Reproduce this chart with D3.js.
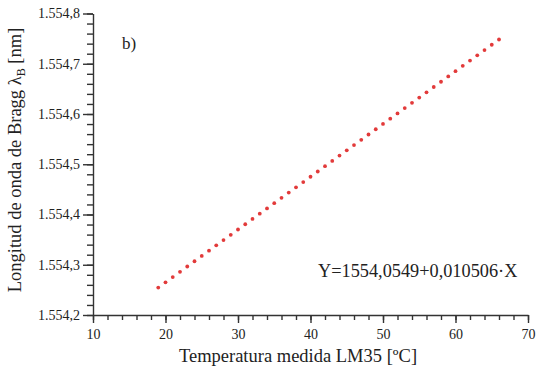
<!DOCTYPE html>
<html>
<head>
<meta charset="utf-8">
<script src="https://cdn.jsdelivr.net/npm/d3@7"></script>
<style>
  body { margin: 0; background: #fff; }
  text { font-family: "Liberation Serif", "Times New Roman", serif; fill: #222; }
</style>
</head>
<body>
<div id="chart"></div>
<script>
const width = 537
const height = 371
const margin = { top: 13.5, right: 9, bottom: 56, left: 93 }

// data
const temps = [19, 20, 21, 22, 23, 24, 25, 26, 27, 28, 29, 30, 31, 32, 33, 34, 35, 36, 37, 38, 39, 40,
  41, 42, 43, 44, 45, 46, 47, 48, 49, 50, 51, 52, 53, 54, 55, 56, 57, 58, 59, 60, 61, 62, 63, 64, 65, 66]
const lambdas = [1554.2545, 1554.265, 1554.2755, 1554.286, 1554.2965, 1554.307, 1554.3176, 1554.3281,
  1554.3386, 1554.3491, 1554.3596, 1554.3701, 1554.3806, 1554.3911, 1554.4016, 1554.4121, 1554.4226,
  1554.4331, 1554.4436, 1554.4541, 1554.4646, 1554.4751, 1554.4856, 1554.4961, 1554.5067, 1554.5172,
  1554.5277, 1554.5382, 1554.5487, 1554.5592, 1554.5697, 1554.5802, 1554.5907, 1554.6012, 1554.6117,
  1554.6222, 1554.6327, 1554.6432, 1554.6537, 1554.6642, 1554.6747, 1554.6852, 1554.6958, 1554.7063,
  1554.7168, 1554.7273, 1554.7378, 1554.7483]
const xTicks = [10, 20, 30, 40, 50, 60, 70]
const yTicks = [1554.2, 1554.3, 1554.4, 1554.5, 1554.6, 1554.7, 1554.8]
const yTickLabels = ["1.554,2", "1.554,3", "1.554,4", "1.554,5", "1.554,6", "1.554,7", "1.554,8"]

const data = temps.map((t, i) => ({ t: t, l: lambdas[i] }))

const svg = d3.select("div#chart").append("svg").attr("width", width).attr("height", height)
const innerW = width - margin.left - margin.right
const innerH = height - margin.top - margin.bottom

const x = d3.scaleLinear().domain([10, 70]).range([0, innerW])
const y = d3.scaleLinear().domain([1554.2, 1554.8]).range([innerH, 0])

const g = svg.append("g").attr("transform", `translate(${margin.left}, ${margin.top})`)

// minor ticks first
const xMinor = d3.range(10, 70.01, 2)
const yMinor = d3.range(0, 31).map(i => 1554.2 + i * 0.02)

g.append("g").attr("transform", `translate(0, ${innerH})`)
  .call(d3.axisBottom(x).tickValues(xMinor).tickSize(5).tickFormat(""))
  .call(a => a.select(".domain").remove())
g.append("g")
  .call(d3.axisLeft(y).tickValues(yMinor).tickSize(6).tickFormat(""))
  .call(a => a.select(".domain").remove())

const xAxis = g.append("g").attr("transform", `translate(0, ${innerH})`)
  .call(d3.axisBottom(x).tickValues(xTicks).tickSize(8).tickSizeOuter(0).tickPadding(6))
xAxis.selectAll("text").attr("font-size", 14).attr("font-family", "Liberation Serif").attr("fill", "#333")

const yAxis = g.append("g")
  .call(d3.axisLeft(y).tickValues(yTicks).tickSize(10).tickSizeOuter(0).tickPadding(3)
    .tickFormat((d, i) => yTickLabels[i]))
yAxis.selectAll("text").attr("font-size", 14).attr("font-family", "Liberation Serif").attr("fill", "#333")

g.selectAll(".domain, .tick line").attr("stroke", "#333").attr("stroke-width", 1.4)

// points
g.selectAll("circle.pt").data(data).enter()
  .append("circle")
  .attr("class", "pt")
  .attr("cx", d => x(d.t))
  .attr("cy", d => y(d.l))
  .attr("r", 1.9)
  .attr("fill", "#e23a3a")

// labels
svg.append("text")
  .attr("x", 298).attr("y", 362)
  .attr("text-anchor", "middle").attr("font-size", 18.5)
  .text("Temperatura medida LM35 [ºC]")

const yt = svg.append("text")
  .attr("transform", "translate(21, 160) rotate(-90)")
  .attr("text-anchor", "middle").attr("font-size", 18.5)
yt.append("tspan").text("Longitud de onda de Bragg λ")
yt.append("tspan").attr("font-size", 12).attr("dy", 4).text("B")
yt.append("tspan").attr("dy", -4).text(" [nm]")

svg.append("text")
  .attr("x", 122).attr("y", 49)
  .attr("font-size", 17)
  .text("b)")

svg.append("text")
  .attr("x", 318).attr("y", 277)
  .attr("font-size", 18.3)
  .text("Y=1554,0549+0,010506·X")
</script>
</body>
</html>
